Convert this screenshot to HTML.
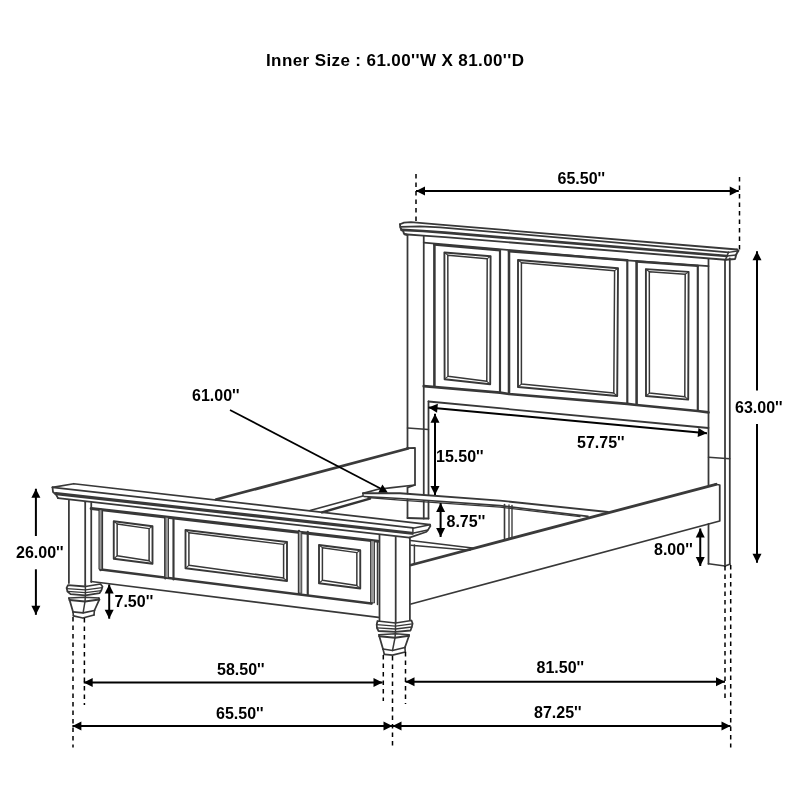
<!DOCTYPE html>
<html><head><meta charset="utf-8"><style>
html,body{margin:0;padding:0;background:#fff;}
svg{display:block;will-change:transform;}
text{font-family:"Liberation Sans",sans-serif;font-weight:bold;fill:#000;}
</style></head><body>
<svg width="800" height="800" viewBox="0 0 800 800">
<rect width="800" height="800" fill="#fff"/>
<g fill="none" stroke="#383838" stroke-linecap="round" stroke-linejoin="round">
<polyline points="400,224.3 404,222.6 411,222.2 440,224.6 737,249.5" stroke-width="1.76"/>
<polyline points="400.5,226.8 420,226.4 440,227.3 728.5,252.3" stroke-width="1.76"/>
<polyline points="401.5,229.8 423,231 445,232.7 727,256" stroke-width="2.70"/>
<polyline points="404.5,234.2 423,235.6 445,237.1 725.5,259.8" stroke-width="1.89"/>
<polyline points="400,224.3 400.3,227.5 401.5,229.6 403.3,231.2 403.8,233.2 404.5,234 407.5,235" stroke-width="1.89"/>
<polyline points="737,249.5 738.5,250.7 737,253 736,255 735.5,257.5 735,259 725.5,259.8" stroke-width="1.89"/>
<polyline points="728.5,252.3 727,256 725.5,259.8" stroke-width="1.49"/>
<line x1="728.5" y1="252.3" x2="737.5" y2="251" stroke-width="1.35"/>
<line x1="727" y1="256" x2="736" y2="255" stroke-width="1.35"/>
<line x1="407.5" y1="235" x2="407.5" y2="448" stroke-width="1.76"/>
<line x1="407.5" y1="487.5" x2="407.5" y2="493.5" stroke-width="1.76"/>
<line x1="407.5" y1="499.5" x2="407.5" y2="518" stroke-width="1.76"/>
<line x1="423.75" y1="236" x2="423.75" y2="494.5" stroke-width="1.76"/>
<line x1="423.75" y1="501" x2="423.75" y2="518.5" stroke-width="1.76"/>
<line x1="428.5" y1="401.5" x2="428.5" y2="495" stroke-width="1.76"/>
<line x1="428.5" y1="501.5" x2="428.5" y2="518.5" stroke-width="1.76"/>
<polyline points="407.5,518 423.75,518.5 428.5,518.5" stroke-width="1.76"/>
<line x1="407.5" y1="428" x2="428.5" y2="429.5" stroke-width="1.49"/>
<line x1="708.5" y1="259" x2="708.5" y2="486" stroke-width="1.76"/>
<line x1="708.5" y1="524" x2="708.5" y2="563.75" stroke-width="1.76"/>
<line x1="725" y1="260" x2="725" y2="566" stroke-width="1.76"/>
<line x1="729.8" y1="258.5" x2="729.8" y2="564.2" stroke-width="1.76"/>
<polyline points="708.5,563.75 725,566 729.8,564.2" stroke-width="1.76"/>
<line x1="708.5" y1="457.25" x2="729.8" y2="458.75" stroke-width="1.49"/>
<polyline points="423.75,242.6 620,259.8 708.5,266.2" stroke-width="1.76"/>
<polyline points="434.4,244.6 434.4,386.2" stroke-width="2.56"/>
<polyline points="500,250.4 500,392.2" stroke-width="2.16"/>
<polyline points="509,251.2 509,393.8" stroke-width="2.56"/>
<polyline points="627.3,260.5 627.3,403.5" stroke-width="2.16"/>
<polyline points="636.6,261.3 636.6,404.6" stroke-width="2.56"/>
<polyline points="697.8,265.9 697.8,410.8" stroke-width="2.16"/>
<polyline points="434.4,244.6 500,250.2" stroke-width="2.43"/>
<polyline points="509,251.2 627.3,260.2" stroke-width="2.43"/>
<polyline points="636.6,261.5 697.8,265.9" stroke-width="2.43"/>
<polyline points="423.75,386.1 500,392.7 509,394 627.3,403.9 636.6,405 697.8,411 708.5,412.4" stroke-width="2.70"/>
<polyline points="428.5,401.5 708.5,428" stroke-width="1.76"/>
<polygon points="444.4,252.5 490.6,256.3 490.2,384.2 444.6,379.2" stroke-width="1.89"/><polygon points="447.8,255.152 487.2,258.68 486.8,381.31 448,376.31" stroke-width="1.49"/><line x1="444.4" y1="252.5" x2="447.8" y2="255.152" stroke-width="1.08"/><line x1="490.6" y1="256.3" x2="487.2" y2="258.68" stroke-width="1.08"/><line x1="490.2" y1="384.2" x2="486.8" y2="381.31" stroke-width="1.08"/><line x1="444.6" y1="379.2" x2="448" y2="376.31" stroke-width="1.08"/>
<polygon points="518,260 618,268.3 617.2,396 518,387" stroke-width="1.89"/><polygon points="521.4,262.652 614.6,270.68 613.8,393.11 521.4,384.11" stroke-width="1.49"/><line x1="518" y1="260" x2="521.4" y2="262.652" stroke-width="1.08"/><line x1="618" y1="268.3" x2="614.6" y2="270.68" stroke-width="1.08"/><line x1="617.2" y1="396" x2="613.8" y2="393.11" stroke-width="1.08"/><line x1="518" y1="387" x2="521.4" y2="384.11" stroke-width="1.08"/>
<polygon points="645.9,269.1 688.6,271.9 688.2,399.6 646,396" stroke-width="1.89"/><polygon points="649.3,271.752 685.2,274.28 684.8,396.71 649.4,393.11" stroke-width="1.49"/><line x1="645.9" y1="269.1" x2="649.3" y2="271.752" stroke-width="1.08"/><line x1="688.6" y1="271.9" x2="685.2" y2="274.28" stroke-width="1.08"/><line x1="688.2" y1="399.6" x2="684.8" y2="396.71" stroke-width="1.08"/><line x1="646" y1="396" x2="649.4" y2="393.11" stroke-width="1.08"/>
<line x1="216" y1="499.5" x2="408" y2="448.5" stroke-width="2.84" stroke="#3a3a3a"/>
<polyline points="407,448.2 415,447.8 415,485 408,487.3" stroke-width="1.76"/>
<polyline points="415,485 392,487.6 378,489.2 363,493.4" stroke-width="1.62"/>
<line x1="363" y1="496" x2="310" y2="510.5" stroke-width="1.62"/>
<line x1="370" y1="498.6" x2="322" y2="512.3" stroke-width="2.43" stroke="#333"/>
<line x1="363" y1="493.4" x2="363" y2="496" stroke-width="1.35"/>
<polyline points="363,493.2 400,493.3 500,500.6 608,512" stroke-width="1.89"/>
<polyline points="364,496.5 400,498.5 500,505.6 588,516.4" stroke-width="1.62"/>
<polyline points="368,497.5 400,500.2 500,507.2 580,516.6" stroke-width="1.35"/>
<line x1="504.5" y1="504.5" x2="504.5" y2="538.5" stroke-width="1.62"/>
<line x1="509" y1="505" x2="509" y2="538" stroke-width="1.35"/>
<line x1="512" y1="505.5" x2="512" y2="537.5" stroke-width="1.35"/>
<line x1="411" y1="565" x2="716" y2="484.3" stroke-width="2.84" stroke="#3a3a3a"/>
<polyline points="715.25,484.25 719.75,485 719.75,521 411,604" stroke-width="1.76"/>
<polyline points="410.5,540.5 472.5,548" stroke-width="1.62"/>
<polyline points="411,545.2 470,550.2" stroke-width="1.49"/>
<line x1="414.4" y1="545" x2="414.4" y2="564" stroke-width="1.49"/>
<polyline points="52.5,487.3 73.75,483.75 430,524.7" stroke-width="1.76"/>
<polyline points="52.5,487.3 412.9,527.8" stroke-width="1.76"/>
<polyline points="56,493.6 412,533.3" stroke-width="3.10"/>
<polyline points="52.5,487.3 53,492 56,494.5 58,498.2" stroke-width="1.76"/>
<polyline points="58,498.2 409.4,537.6" stroke-width="1.76"/>
<polyline points="430,524.7 430.4,526 427.75,530.4 426,532 409.4,537.6" stroke-width="1.76"/>
<line x1="412.9" y1="528.2" x2="412.9" y2="533.9" stroke-width="1.49"/>
<line x1="412.9" y1="528.2" x2="430" y2="524.7" stroke-width="1.49"/>
<line x1="413.75" y1="533" x2="427.75" y2="530" stroke-width="1.35"/>
<polyline points="91.25,508.5 378,541.25" stroke-width="3.10"/>
<line x1="68.9" y1="500.5" x2="68.9" y2="583" stroke-width="1.76"/>
<line x1="85.2" y1="502.2" x2="85.2" y2="585" stroke-width="1.76"/>
<line x1="91.25" y1="503" x2="91.25" y2="582" stroke-width="1.76"/>
<line x1="379.5" y1="535" x2="379.5" y2="620.5" stroke-width="1.76"/>
<line x1="395.7" y1="537" x2="395.7" y2="622.5" stroke-width="1.76"/>
<line x1="409.9" y1="537.6" x2="409.9" y2="620" stroke-width="1.76"/>
<polyline points="91.25,581.5 378.5,617.3" stroke-width="1.76"/>
<polyline points="101,569.5 371.5,603.5" stroke-width="2.43"/>
<line x1="100.5" y1="509.5" x2="100.5" y2="570" stroke-width="2.56"/>
<line x1="102.5" y1="509.8" x2="102.5" y2="570" stroke-width="1.22"/>
<line x1="165.25" y1="517.2" x2="165.25" y2="578.5" stroke-width="2.16"/>
<line x1="173.5" y1="518.2" x2="173.5" y2="579.5" stroke-width="2.16"/>
<line x1="299" y1="530.8" x2="299" y2="593.8" stroke-width="2.16"/>
<line x1="307.75" y1="531.8" x2="307.75" y2="595" stroke-width="2.16"/>
<line x1="371.5" y1="540.5" x2="371.5" y2="603.5" stroke-width="2.16"/>
<line x1="377.5" y1="541.2" x2="377.5" y2="604.5" stroke-width="1.49"/>
<polygon points="99.3,509.5 102,509.8 102,569.6 99.3,569.3" fill="#999" stroke="#333" stroke-width="0.9"/>
<polygon points="165.25,517 168.5,517.4 168.5,578 165.25,577.5" fill="#999" stroke="#333" stroke-width="0.9"/>
<polygon points="298.75,531.5 301.75,531.8 301.75,593.4 298.75,593" fill="#999" stroke="#333" stroke-width="0.9"/>
<polygon points="371,540.5 374.5,540.9 374.5,603 371,602.6" fill="#999" stroke="#333" stroke-width="0.9"/>
<polygon points="113.75,521.25 152.5,526.25 152.5,563.75 113.75,558.75" stroke-width="1.89"/><polygon points="117.15,523.902 149.1,528.63 149.1,560.86 117.15,555.86" stroke-width="1.49"/><line x1="113.75" y1="521.25" x2="117.15" y2="523.902" stroke-width="1.08"/><line x1="152.5" y1="526.25" x2="149.1" y2="528.63" stroke-width="1.08"/><line x1="152.5" y1="563.75" x2="149.1" y2="560.86" stroke-width="1.08"/><line x1="113.75" y1="558.75" x2="117.15" y2="555.86" stroke-width="1.08"/>
<polygon points="185.5,530 287,542 287,581 185.5,568.25" stroke-width="1.89"/><polygon points="188.9,532.652 283.6,544.38 283.6,578.11 188.9,565.36" stroke-width="1.49"/><line x1="185.5" y1="530" x2="188.9" y2="532.652" stroke-width="1.08"/><line x1="287" y1="542" x2="283.6" y2="544.38" stroke-width="1.08"/><line x1="287" y1="581" x2="283.6" y2="578.11" stroke-width="1.08"/><line x1="185.5" y1="568.25" x2="188.9" y2="565.36" stroke-width="1.08"/>
<polygon points="319,545 360.25,550.25 360.25,588.5 319,583.25" stroke-width="1.89"/><polygon points="322.4,547.652 356.85,552.63 356.85,585.61 322.4,580.36" stroke-width="1.49"/><line x1="319" y1="545" x2="322.4" y2="547.652" stroke-width="1.08"/><line x1="360.25" y1="550.25" x2="356.85" y2="552.63" stroke-width="1.08"/><line x1="360.25" y1="588.5" x2="356.85" y2="585.61" stroke-width="1.08"/><line x1="319" y1="583.25" x2="322.4" y2="580.36" stroke-width="1.08"/>
<polygon points="68,585.2 85.4,586.5 100.5,584 102.5,586.5 101.5,590 99.5,593.2 85.4,595.4 70.5,594.2 67.5,591.5 66.6,588" stroke-width="1.76"/><polyline points="66.8,588.6 85.4,589.8 102.2,587.6" stroke-width="1.35"/><polyline points="67.4,591.4 85.4,592.6 101.4,590.6" stroke-width="1.35"/><polyline points="68.9,598.1 84.3,597.2 98.9,598.1" stroke-width="1.49"/><polyline points="69.6,600 85,601.5 99.3,599.6" stroke-width="2.03"/><polyline points="68.9,598.1 69.6,600 73,611.8" stroke-width="1.76"/><polyline points="98.9,598.1 99.3,599.6 94.4,610.5" stroke-width="1.76"/><polyline points="85.4,584.5 85.4,595.4 85,601.5 83.1,612.8" stroke-width="1.49"/><polyline points="73,611.8 83.1,612.8 94.4,610.5" stroke-width="1.76"/><polyline points="73.4,615.8 82.8,618 94,615" stroke-width="1.76"/><polyline points="73,611.8 73.4,615.8" stroke-width="1.62"/><polyline points="94.4,610.5 94,615" stroke-width="1.62"/>
<polygon points="377.5,621 395.5,623 411.5,620.5 412.6,623.5 411.8,627 410.5,630.5 395.5,631.8 378.5,631 377,628 376.7,624.5" stroke-width="1.76"/><polyline points="376.8,624.6 395.5,626.2 412.4,623.8" stroke-width="1.35"/><polyline points="377,627.8 395.5,629 411.8,627" stroke-width="1.35"/><polyline points="379,634.8 395.5,633.8 409,634.8" stroke-width="1.49"/><polyline points="379.3,636.3 395,637.8 409,635.8" stroke-width="2.03"/><polyline points="379,634.8 379.3,636.3 383,649" stroke-width="1.76"/><polyline points="409,634.8 409,635.8 404.9,647.5" stroke-width="1.76"/><polyline points="395.5,622 395.5,631.8 395,637.8 392.5,650.5" stroke-width="1.49"/><polyline points="383,649 392.5,650.5 404.9,647.5" stroke-width="1.76"/><polyline points="384.3,654.3 392.5,655.2 405.3,652" stroke-width="1.76"/><polyline points="383,649 384.3,654.3" stroke-width="1.62"/><polyline points="404.9,647.5 405.3,652" stroke-width="1.62"/>
</g>
<g stroke-linecap="butt">
<line x1="416" y1="191.1" x2="738.75" y2="191.1" stroke-width="2" stroke="#000"/><polygon points="416,191.1 425,195.6 425,186.6" fill="#000" stroke="none"/><polygon points="738.75,191.1 729.75,186.6 729.75,195.6" fill="#000" stroke="none"/>
<line x1="416" y1="174" x2="416" y2="221" stroke-width="1.5" stroke="#000" stroke-dasharray="4.5 4"/>
<line x1="739.5" y1="177" x2="739.5" y2="250" stroke-width="1.5" stroke="#000" stroke-dasharray="4.5 4"/>
<line x1="757" y1="251.25" x2="757" y2="390.5" stroke-width="2" stroke="#000"/><polygon points="757,251.25 752.5,260.25 761.5,260.25" fill="#000" stroke="none"/>
<line x1="757" y1="562.75" x2="757" y2="424" stroke-width="2" stroke="#000"/><polygon points="757,562.75 761.5,553.75 752.5,553.75" fill="#000" stroke="none"/>
<line x1="230" y1="410" x2="381" y2="488.8" stroke-width="1.7" stroke="#000"/>
<polygon points="382.4,484.6 378.4,492.5 387.8,492.5" fill="#000" stroke="none"/>
<line x1="435" y1="413.75" x2="435" y2="495" stroke-width="2" stroke="#000"/><polygon points="435,413.75 430.5,422.75 439.5,422.75" fill="#000" stroke="none"/><polygon points="435,495 439.5,486 430.5,486" fill="#000" stroke="none"/>
<line x1="428.5" y1="407.5" x2="707" y2="433.3" stroke-width="2" stroke="#000"/><polygon points="428.5,407.5 437.047,412.811 437.877,403.849" fill="#000" stroke="none"/><polygon points="707,433.3 698.453,427.989 697.623,436.951" fill="#000" stroke="none"/>
<line x1="440.6" y1="503" x2="440.6" y2="537" stroke-width="2" stroke="#000"/><polygon points="440.6,503 436.1,512 445.1,512" fill="#000" stroke="none"/><polygon points="440.6,537 445.1,528 436.1,528" fill="#000" stroke="none"/>
<line x1="700.25" y1="528.5" x2="700.25" y2="566" stroke-width="2" stroke="#000"/><polygon points="700.25,528.5 695.75,537.5 704.75,537.5" fill="#000" stroke="none"/><polygon points="700.25,566 704.75,557 695.75,557" fill="#000" stroke="none"/>
<line x1="35.9" y1="488.75" x2="35.9" y2="536" stroke-width="2" stroke="#000"/><polygon points="35.9,488.75 31.4,497.75 40.4,497.75" fill="#000" stroke="none"/>
<line x1="35.9" y1="614.8" x2="35.9" y2="569.3" stroke-width="2" stroke="#000"/><polygon points="35.9,614.8 40.4,605.8 31.4,605.8" fill="#000" stroke="none"/>
<line x1="109.2" y1="584.5" x2="109.2" y2="618.7" stroke-width="2" stroke="#000"/><polygon points="109.2,584.5 104.7,593.5 113.7,593.5" fill="#000" stroke="none"/><polygon points="109.2,618.7 113.7,609.7 104.7,609.7" fill="#000" stroke="none"/>
<line x1="83.7" y1="682.5" x2="382.5" y2="682.5" stroke-width="2" stroke="#000"/><polygon points="83.7,682.5 92.7,687 92.7,678" fill="#000" stroke="none"/><polygon points="382.5,682.5 373.5,678 373.5,687" fill="#000" stroke="none"/>
<line x1="405.5" y1="681.8" x2="725" y2="681.8" stroke-width="2" stroke="#000"/><polygon points="405.5,681.8 414.5,686.3 414.5,677.3" fill="#000" stroke="none"/><polygon points="725,681.8 716,677.3 716,686.3" fill="#000" stroke="none"/>
<line x1="72.4" y1="726" x2="392.5" y2="726" stroke-width="2" stroke="#000"/><polygon points="72.4,726 81.4,730.5 81.4,721.5" fill="#000" stroke="none"/><polygon points="392.5,726 383.5,721.5 383.5,730.5" fill="#000" stroke="none"/>
<line x1="392.5" y1="726" x2="730.5" y2="726" stroke-width="2" stroke="#000"/><polygon points="392.5,726 401.5,730.5 401.5,721.5" fill="#000" stroke="none"/><polygon points="730.5,726 721.5,721.5 721.5,730.5" fill="#000" stroke="none"/>
<line x1="73" y1="617" x2="73" y2="747.5" stroke-width="1.5" stroke="#000" stroke-dasharray="4.5 4"/>
<line x1="84.4" y1="618" x2="84.4" y2="705" stroke-width="1.5" stroke="#000" stroke-dasharray="4.5 4"/>
<line x1="383.3" y1="655" x2="383.3" y2="701" stroke-width="1.5" stroke="#000" stroke-dasharray="4.5 4"/>
<line x1="392.5" y1="656" x2="392.5" y2="747.5" stroke-width="1.5" stroke="#000" stroke-dasharray="4.5 4"/>
<line x1="405.5" y1="652" x2="405.5" y2="704" stroke-width="1.5" stroke="#000" stroke-dasharray="4.5 4"/>
<line x1="725" y1="566" x2="725" y2="701" stroke-width="1.5" stroke="#000" stroke-dasharray="4.5 4"/>
<line x1="730.7" y1="565" x2="730.7" y2="747.5" stroke-width="1.5" stroke="#000" stroke-dasharray="4.5 4"/>
</g>
<text x="266" y="66" font-size="17" textLength="258" lengthAdjust="spacing">Inner Size : 61.00''W X 81.00''D</text>
<text x="557.5" y="184" font-size="16">65.50''</text>
<text x="735" y="413" font-size="16">63.00''</text>
<text x="192" y="401" font-size="16">61.00''</text>
<text x="436" y="462" font-size="16">15.50''</text>
<text x="577" y="447.5" font-size="16">57.75''</text>
<text x="446.5" y="527" font-size="16">8.75''</text>
<text x="654" y="554.5" font-size="16">8.00''</text>
<text x="16" y="557.5" font-size="16">26.00''</text>
<text x="114.5" y="606.5" font-size="16">7.50''</text>
<text x="217" y="674.5" font-size="16">58.50''</text>
<text x="536.5" y="673" font-size="16">81.50''</text>
<text x="216" y="719" font-size="16">65.50''</text>
<text x="534" y="717.5" font-size="16">87.25''</text>
</svg>
</body></html>
